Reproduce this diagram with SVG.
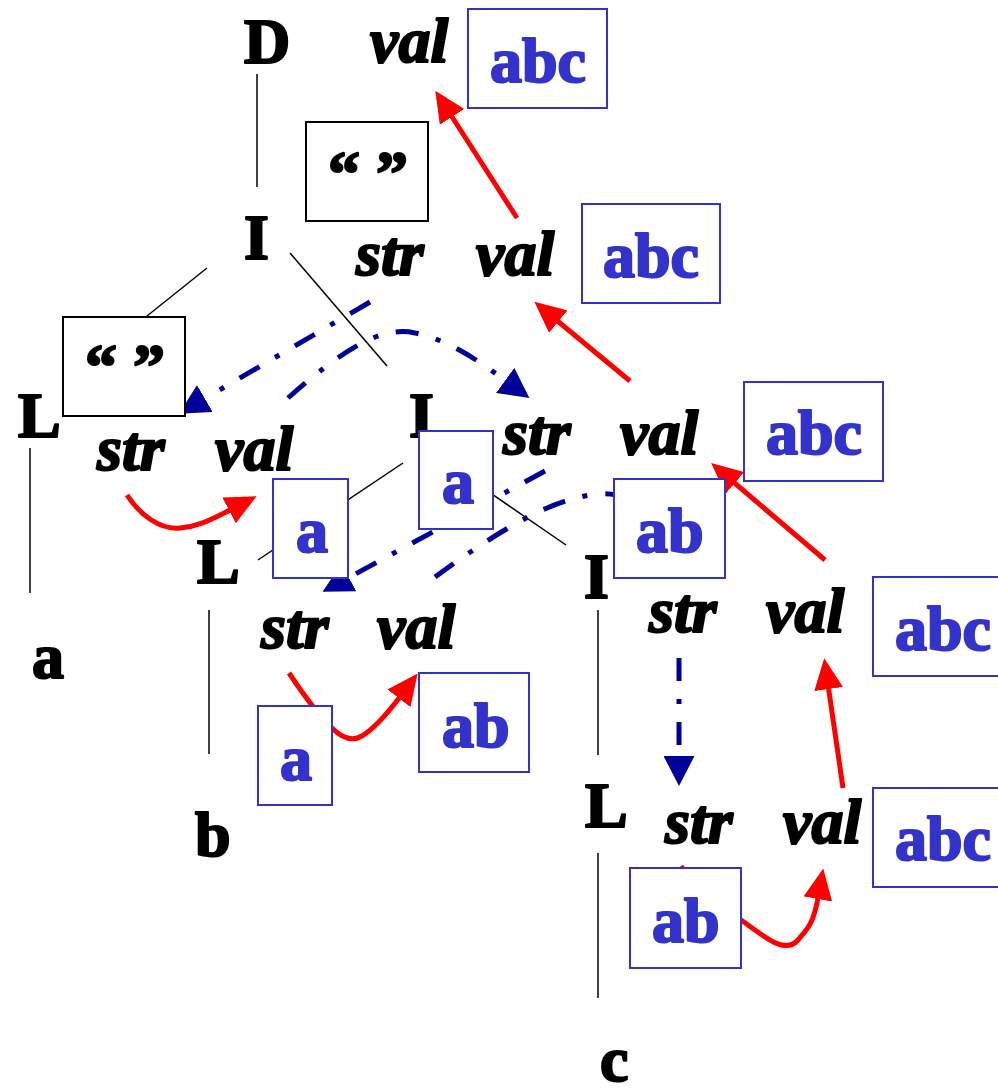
<svg xmlns="http://www.w3.org/2000/svg" width="998" height="1088" viewBox="0 0 998 1088">
<defs>
<style>
.t{font-family:"Liberation Serif","Times New Roman",serif;font-weight:bold;font-size:64px;fill:#000;stroke:#000;stroke-width:2.2;stroke-linejoin:round}
.i{font-family:"Liberation Serif","Times New Roman",serif;font-weight:bold;font-style:italic;font-size:64px;fill:#000;stroke:#000;stroke-width:2.2;stroke-linejoin:round}
.v{font-family:"Liberation Serif","Times New Roman",serif;font-weight:bold;font-size:64px;fill:#3333cc;stroke:#3333cc;stroke-width:2.2;stroke-linejoin:round}
.bb{fill:#fff;stroke:#000;stroke-width:2}
.vb{fill:#fff;stroke:#3333cc;stroke-width:2}
.tree{stroke:#000;stroke-width:1.5;fill:none}
.red{stroke:#ff0000;stroke-width:5;fill:none;marker-end:url(#ahr)}
.blue{stroke:#000099;stroke-width:5;fill:none;stroke-dasharray:23 18 5 18;marker-end:url(#ahb)}
</style>
<marker id="ahr" markerUnits="userSpaceOnUse" viewBox="0 0 31 29" refX="1" refY="14.5" markerWidth="31" markerHeight="29" orient="auto"><path d="M0,0 L31,14.5 L0,29 z" fill="#ff0000"/></marker>
<marker id="ahb" markerUnits="userSpaceOnUse" viewBox="0 0 30 31" refX="1" refY="15.5" markerWidth="30" markerHeight="31" orient="auto"><path d="M0,0 L30,15.5 L0,31 z" fill="#000099"/></marker>
</defs>
<rect width="998" height="1088" fill="#fff"/>
<g id="connectors">
<line class="tree" x1="257" y1="74" x2="257" y2="187"/>
<line class="tree" x1="207" y1="268" x2="147" y2="316"/>
<line class="tree" x1="290" y1="253" x2="387" y2="366"/>
<line class="tree" x1="30" y1="448" x2="30" y2="593"/>
<line class="tree" x1="403" y1="463" x2="258" y2="560"/>
<line class="tree" x1="470" y1="479" x2="566" y2="545"/>
<line class="tree" x1="209" y1="610" x2="209" y2="754"/>
<line class="tree" x1="598" y1="610" x2="598" y2="755"/>
<line class="tree" x1="598" y1="853" x2="598" y2="998"/>
<path class="red" d="M517,218 L451.5,116"/>
<path class="red" d="M630,381 L557.5,321"/>
<path class="red" d="M825,560 L734,482.5"/>
<path class="red" d="M843,788 L828.5,688"/>
<path class="red" d="M127,495 C140,515 160,530 180,528 C195,527 207,522 230,510"/>
<path class="red" d="M289,673 C305,697 318,715 332,728 C342,738 352,742 362,736 C375,728 390,710 399.5,697.5"/>
<path class="red" d="M681,866 C700,895 720,905 741,920 C765,937 785,955 798,940 C806,930 813,926 818,898"/>
<path class="blue" d="M370,302 L204,399"/>
<path class="blue" d="M288,398 C340,352 380,325 415,333 C450,340 480,362 506,381"/>
<path class="blue" d="M545,471 L348,578"/>
<path class="blue" d="M435,577 C490,537 550,497 600,494 C615,493 625,497 640,505"/>
<path class="blue" d="M679,658 L679,757"/>
</g>
<g id="node-D">
<text class="t" x="244" y="63">D</text>
<text class="i" x="370" y="62">val</text>
<rect class="vb" x="468" y="9" width="139" height="99"/>
<text class="v" x="490" y="82">abc</text>
</g>
<g id="node-I1">
<text class="t" x="244" y="259">I</text>
<rect class="bb" x="306" y="122" width="122" height="99"/>
<text class="t" x="328" y="195">“ ”</text>
<text class="i" x="356" y="275">str</text>
<text class="i" x="476" y="275">val</text>
<rect class="vb" x="582" y="204" width="138" height="99"/>
<text class="v" x="603" y="277">abc</text>
</g>
<g id="node-L1">
<text class="t" x="18" y="437">L</text>
<rect class="bb" x="63" y="317" width="122" height="99"/>
<text class="t" x="85" y="388">“ ”</text>
<text class="i" x="97" y="470">str</text>
<text class="i" x="215" y="470">val</text>
<rect class="vb" x="273" y="479" width="75" height="99"/>
<text class="v" x="296" y="552">a</text>
</g>
<g id="leaf-a">
<text class="t" x="32" y="678">a</text>
</g>
<g id="node-I2">
<text class="t" x="409" y="437">I</text>
<rect class="vb" x="419" y="431" width="74" height="98"/>
<text class="v" x="442" y="503">a</text>
<text class="i" x="503" y="454">str</text>
<text class="i" x="620" y="454">val</text>
<rect class="vb" x="744" y="382" width="139" height="99"/>
<text class="v" x="766" y="454">abc</text>
</g>
<g id="node-L2">
<text class="t" x="197" y="583">L</text>
<text class="i" x="261" y="648">str</text>
<text class="i" x="377" y="648">val</text>
<rect class="vb" x="258" y="706" width="74" height="99"/>
<text class="v" x="280" y="780">a</text>
<rect class="vb" x="419" y="673" width="110" height="99"/>
<text class="v" x="442" y="747">ab</text>
</g>
<g id="leaf-b">
<text class="t" x="195" y="856">b</text>
</g>
<g id="node-I3">
<text class="t" x="584" y="598">I</text>
<rect class="vb" x="614" y="479" width="111" height="99"/>
<text class="v" x="636" y="552">ab</text>
<text class="i" x="649" y="632">str</text>
<text class="i" x="766" y="632">val</text>
<rect class="vb" x="873" y="577" width="140" height="99"/>
<text class="v" x="895" y="650">abc</text>
</g>
<g id="node-L3">
<text class="t" x="585" y="827">L</text>
<text class="i" x="665" y="843">str</text>
<text class="i" x="783" y="843">val</text>
<rect class="vb" x="630" y="868" width="111" height="100"/>
<text class="v" x="652" y="942">ab</text>
<rect class="vb" x="873" y="788" width="140" height="99"/>
<text class="v" x="895" y="860">abc</text>
</g>
<g id="leaf-c">
<text class="t" x="600" y="1081">c</text>
</g>
</svg>
